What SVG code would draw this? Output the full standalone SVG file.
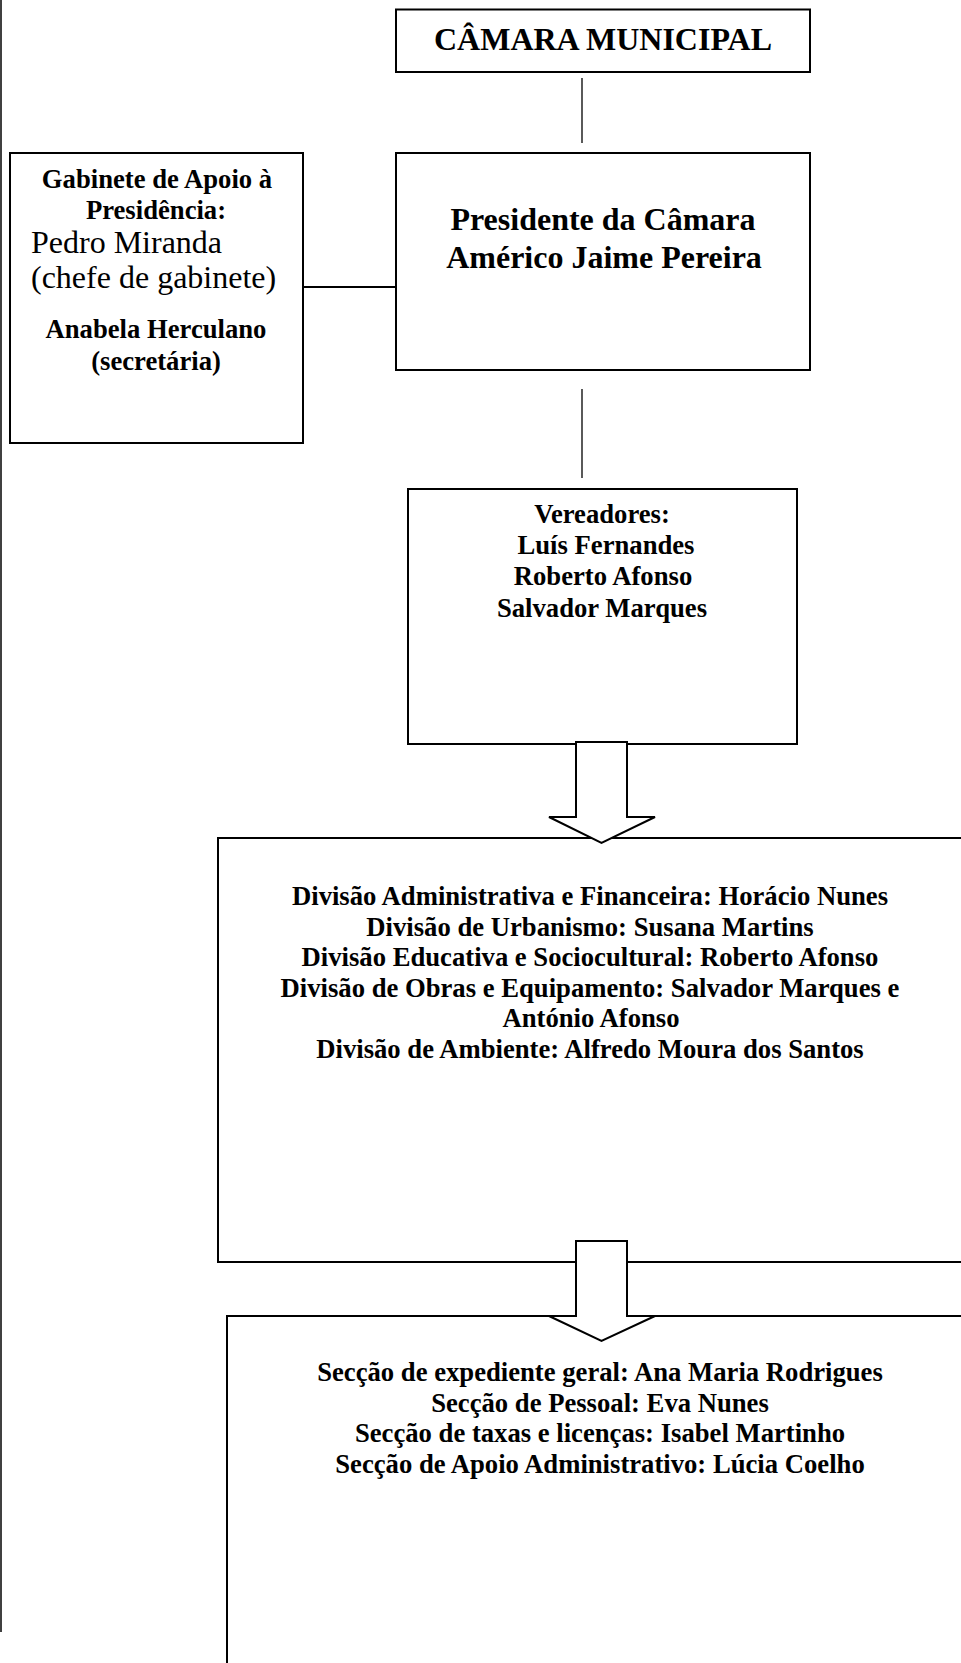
<svg xmlns="http://www.w3.org/2000/svg" width="961" height="1663" viewBox="0 0 961 1663">
<style>
  text { font-family: "Liberation Serif", "Times New Roman", serif; fill: #000; }
  .b32 { font-size: 32px; font-weight: bold; text-anchor: middle; }
  .b27 { font-size: 26.67px; font-weight: bold; text-anchor: middle; }
  .r32 { font-size: 32px; font-weight: normal; }
  .box { fill: #fff; stroke: #000; stroke-width: 2; }
  .ln { stroke: #000; stroke-width: 1.3; fill: none; }
  .arrow { fill: #fff; stroke: #000; stroke-width: 2; stroke-linejoin: miter; }
</style>
<rect x="0" y="0" width="961" height="1663" fill="#fff"/>
<line class="ln" x1="1" y1="0" x2="1" y2="1632" style="stroke-width:1.5"/>

<g id="connectors">
  <line class="ln" x1="582" y1="78" x2="582" y2="143"/>
  <line class="ln" x1="303" y1="287" x2="396" y2="287" style="stroke-width:2"/>
  <line class="ln" x1="582" y1="389" x2="582" y2="478"/>
</g>

<g id="camara">
  <rect class="box" x="396" y="9.5" width="414" height="62.5"/>
  <text class="b32" x="603" y="50">CÂMARA MUNICIPAL</text>
</g>

<g id="presidente">
  <rect class="box" x="396" y="153" width="414" height="217"/>
  <text class="b32" x="603" y="230">Presidente da Câmara</text>
  <text class="b32" x="604" y="268">Américo Jaime Pereira</text>
</g>

<g id="gabinete">
  <rect class="box" x="10" y="153" width="293" height="290"/>
  <text class="b27" x="157" y="188">Gabinete de Apoio à</text>
  <text class="b27" x="156" y="219">Presidência:</text>
  <text class="r32" x="31" y="253">Pedro Miranda</text>
  <text class="r32" x="31" y="288">(chefe de gabinete)</text>
  <text class="b27" x="156" y="338">Anabela Herculano</text>
  <text class="b27" x="156" y="370">(secretária)</text>
</g>

<g id="vereadores">
  <rect class="box" x="408" y="489" width="389" height="255"/>
  <text class="b27" x="602" y="523">Vereadores:</text>
  <text class="b27" x="606" y="554">Luís Fernandes</text>
  <text class="b27" x="603" y="585">Roberto Afonso</text>
  <text class="b27" x="602" y="617">Salvador Marques</text>
</g>

<g id="divisoes">
  <rect class="box" x="218" y="838" width="760" height="424"/>
  <text class="b27" x="590" y="905">Divisão Administrativa e Financeira: Horácio Nunes</text>
  <text class="b27" x="590" y="935.5">Divisão de Urbanismo: Susana Martins</text>
  <text class="b27" x="590" y="966">Divisão Educativa e Sociocultural: Roberto Afonso</text>
  <text class="b27" x="590" y="996.5">Divisão de Obras e Equipamento: Salvador Marques e</text>
  <text class="b27" x="591" y="1027">António Afonso</text>
  <text class="b27" x="590" y="1057.5">Divisão de Ambiente: Alfredo Moura dos Santos</text>
</g>

<g id="seccoes">
  <rect class="box" x="227" y="1316" width="760" height="380"/>
  <text class="b27" x="600" y="1381">Secção de expediente geral: Ana Maria Rodrigues</text>
  <text class="b27" x="600" y="1412">Secção de Pessoal: Eva Nunes</text>
  <text class="b27" x="600" y="1442">Secção de taxas e licenças: Isabel Martinho</text>
  <text class="b27" x="600" y="1473">Secção de Apoio Administrativo: Lúcia Coelho</text>
</g>

<g id="arrows">
  <polygon class="arrow" points="576,742 627,742 627,817 655,817 601.5,843 549,817 576,817"/>
  <polygon class="arrow" points="576,1241 627,1241 627,1316 655,1316 601.5,1341 549,1316 576,1316"/>
</g>
</svg>
